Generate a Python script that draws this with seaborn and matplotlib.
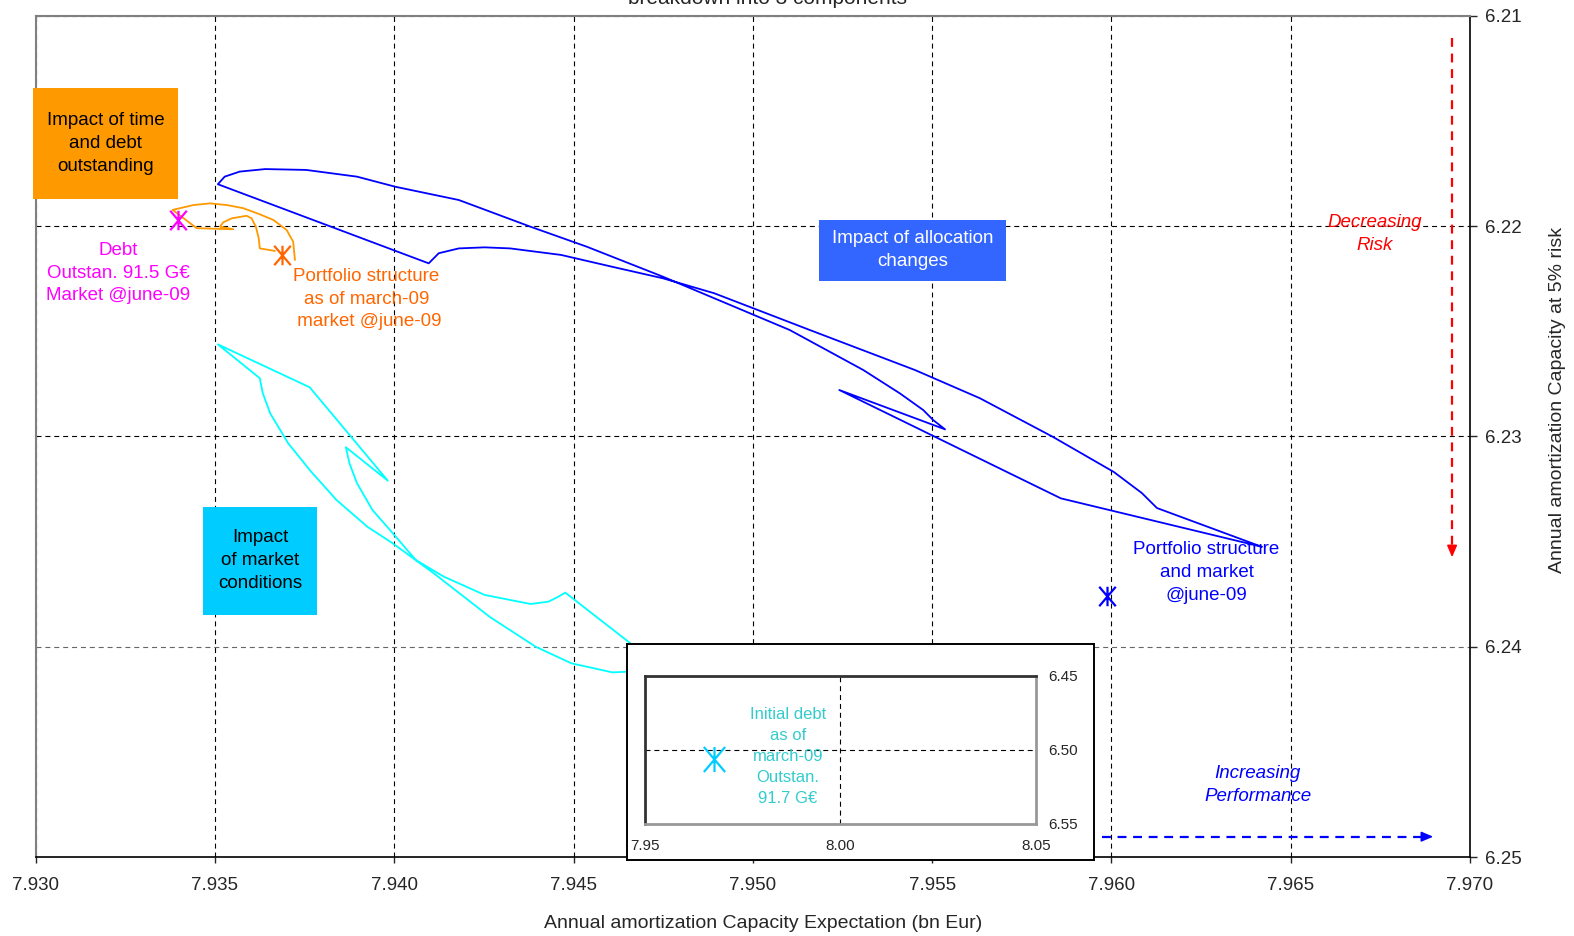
import matplotlib
matplotlib.use("Agg")
import matplotlib.pyplot as plt
import seaborn as sns
from matplotlib.patches import Rectangle
from matplotlib.path import Path
from matplotlib.ticker import FormatStrFormatter

# --- valeurs (x = esperance, y = capacite a 5% de risque) ---
# impact des changements d'allocation (bleu)
alloc_x = [7.96419, 7.95859, 7.95241, 7.95536, 7.95503, 7.95475, 7.95410, 7.95308, 7.95103,
           7.94750, 7.94537, 7.94380, 7.94180, 7.94003, 7.93896, 7.93754, 7.93640, 7.93569,
           7.93527, 7.93508, 7.94096, 7.94124, 7.94180, 7.94252, 7.94323, 7.94465, 7.94607,
           7.94749, 7.94892, 7.95159, 7.95452, 7.95633, 7.95837, 7.96007, 7.96085, 7.96127,
           7.96419]
alloc_y = [6.23524, 6.23294, 6.22779, 6.22966, 6.22922, 6.22874, 6.22795, 6.22684, 6.22494,
           6.22241, 6.22098, 6.22003, 6.21876, 6.21813, 6.21765, 6.21733, 6.21729, 6.21741,
           6.21765, 6.21801, 6.22177, 6.22129, 6.22106, 6.22101, 6.22106, 6.22137, 6.22193,
           6.22248, 6.22319, 6.22494, 6.22684, 6.22818, 6.23002, 6.23169, 6.23269, 6.23340,
           6.23524]

# impact des conditions de marche (cyan)
market_x = [7.94852, 7.94657, 7.94477, 7.94458, 7.94430, 7.94380, 7.94252, 7.94138, 7.94060,
            7.93996, 7.93939, 7.93896, 7.93875, 7.93865, 7.93982, 7.93764, 7.93508, 7.93625,
            7.93633, 7.93654, 7.93704, 7.93768, 7.93839, 7.93925, 7.93996, 7.94110, 7.94266,
            7.94394, 7.94494, 7.94608, 7.94651, 7.94797]
market_y = [6.24238, 6.23981, 6.23742, 6.23761, 6.23785, 6.23796, 6.23753, 6.23666, 6.23587,
            6.23460, 6.23349, 6.23222, 6.23127, 6.23051, 6.23210, 6.22766, 6.22562, 6.22723,
            6.22793, 6.22890, 6.23032, 6.23167, 6.23302, 6.23429, 6.23508, 6.23650, 6.23857,
            6.23999, 6.24078, 6.24121, 6.24118, 6.24086]

# impact du temps et de la dette (orange)
time_x = [7.93723, 7.93718, 7.93700, 7.93663, 7.93625, 7.93579, 7.93533, 7.93486, 7.93440,
          7.93402, 7.93382, 7.93449, 7.93551, 7.93514, 7.93523, 7.93547, 7.93588, 7.93602,
          7.93614, 7.93622, 7.93625, 7.93667]
time_y = [6.22161, 6.22074, 6.22019, 6.21971, 6.21944, 6.21915, 6.21900, 6.21892, 6.21900,
          6.21915, 6.21923, 6.22010, 6.22015, 6.22003, 6.21982, 6.21963, 6.21951, 6.21963,
          6.22003, 6.22058, 6.22106, 6.22118]

# portefeuilles marques d'une etoile
point_x = [7.93398, 7.93686, 7.95988]
point_y = [6.21971, 6.22137, 6.23758]
point_colors = ["#FF00FF", "#FF6600", "#0000FF"]

# dette initiale (encart)
initial_x = [7.9676]
initial_y = [6.5063]

x_ticks = [7.930, 7.935, 7.940, 7.945, 7.950, 7.955, 7.960, 7.965, 7.970]
y_ticks = [6.21, 6.22, 6.23, 6.24, 6.25]
inset_x_ticks = [7.95, 8.00, 8.05]
inset_y_ticks = [6.45, 6.50, 6.55]

sns.set_style("white")
plt.rcParams["font.family"] = ["Liberation Sans", "DejaVu Sans"]

# marqueur "etoile" facon Excel : X + barre verticale
star = Path([(0, -1), (0, 1), (-0.85, -1), (0.85, 1), (-0.85, 1), (0.85, -1)],
            [Path.MOVETO, Path.LINETO, Path.MOVETO, Path.LINETO, Path.MOVETO, Path.LINETO])

fig = plt.figure(figsize=(15.74, 9.36), dpi=100)
ax = fig.add_axes([0.02268, 0.08408, 0.91125, 0.89915])

sns.lineplot(x=alloc_x, y=alloc_y, sort=False, estimator=None, color="#0000FF", lw=1.3, ax=ax)
sns.lineplot(x=market_x, y=market_y, sort=False, estimator=None, color="#00FFFF", lw=1.3, ax=ax)
sns.lineplot(x=time_x, y=time_y, sort=False, estimator=None, color="#FF9900", lw=1.3, ax=ax)
for px, py, c in zip(point_x, point_y, point_colors):
    sns.lineplot(x=[px], y=[py], estimator=None, marker=star, markersize=14,
                 mec=c, mew=1.6, color=c, ax=ax)

ax.set_xlim(7.930, 7.970)
ax.set_ylim(6.25, 6.21)
ax.set_xticks(x_ticks)
ax.set_yticks(y_ticks)
ax.xaxis.set_major_formatter(FormatStrFormatter("%.3f"))
ax.yaxis.set_major_formatter(FormatStrFormatter("%.2f"))
ax.yaxis.tick_right()
ax.tick_params(axis="x", direction="out", length=4, width=1, pad=10, labelsize=13.5, bottom=True)
ax.tick_params(axis="y", direction="out", length=5, width=1, pad=5.5, labelsize=13.5, right=True, left=False)
ax.set_xlabel("")
ax.set_ylabel("")
ax.set_axisbelow(True)
ax.grid(True, color="black", linestyle=(0, (4.5, 3.5)), linewidth=0.8)
ax.get_ygridlines()[3].set_color("#666666")
for side in ["top", "left"]:
    ax.spines[side].set_color("#808080")
    ax.spines[side].set_linewidth(1.5)
for side in ["right", "bottom"]:
    ax.spines[side].set_color("black")
    ax.spines[side].set_linewidth(1.2)

# encadres
boxes = [((7.92993, 6.21345), 7.93398 - 7.92993, 6.21873 - 6.21345, "#FF9900",
          "Impact of time\nand debt\noutstanding", "black"),
         ((7.95184, 6.21971), 7.95706 - 7.95184, 6.22260 - 6.21971, "#3366FF",
          "Impact of allocation\nchanges", "white"),
         ((7.93467, 6.23335), 7.93784 - 7.93467, 6.23847 - 6.23335, "#00CCFF",
          "Impact\nof market\nconditions", "black")]
for (x0, y0), w, h, fc, label, tc in boxes:
    ax.add_patch(Rectangle((x0, y0), w, h, facecolor=fc, edgecolor="none", clip_on=False, zorder=3))
    ax.text(x0 + w / 2, y0 + h / 2, label, ha="center", va="center", color=tc,
            fontsize=13.5, linespacing=1.45, zorder=4)

ax.text(7.93231, 6.22223, "Debt\nOutstan. 91.5 G€\nMarket @june-09", color="#FF00FF",
        ha="center", va="center", fontsize=13.5, linespacing=1.45)
ax.text(7.93922, 6.22347, "Portfolio structure\nas of march-09\n market @june-09", color="#FF6600",
        ha="center", va="center", fontsize=13.5, linespacing=1.45)
ax.text(7.96265, 6.23647, "Portfolio structure\nand market\n@june-09", color="#0000FF",
        ha="center", va="center", fontsize=13.5, linespacing=1.45)
ax.text(7.96735, 6.22038, "Decreasing\nRisk", color="red", style="italic",
        ha="center", va="center", fontsize=13.5, linespacing=1.45)
ax.text(7.96408, 6.24657, "Increasing\nPerformance", color="#0000FF", style="italic",
        ha="center", va="center", fontsize=13.5, linespacing=1.45)

# fleches pointillees
ax.plot([7.96950, 7.96950], [6.21106, 6.23560], color="red", lw=1.6, ls=(0, (4, 3)))
ax.annotate("", xy=(7.96950, 6.23587), xytext=(7.96950, 6.23540),
            arrowprops=dict(arrowstyle="-|>,head_length=0.7,head_width=0.3", color="red", lw=1.2))
ax.plot([7.95973, 7.96880], [6.24902, 6.24902], color="#0000FF", lw=1.6, ls=(0, (4, 3)))
ax.annotate("", xy=(7.96905, 6.24902), xytext=(7.96860, 6.24902),
            arrowprops=dict(arrowstyle="-|>,head_length=0.7,head_width=0.3", color="#0000FF", lw=1.2))

# encart : dette initiale
box_ax = fig.add_axes([0.39835, 0.0812, 0.2967, 0.2308], zorder=5)
box_ax.set_facecolor("white")
box_ax.set_xticks([])
box_ax.set_yticks([])
for s in box_ax.spines.values():
    s.set_color("black")
    s.set_linewidth(1.4)

ax_in = fig.add_axes([0.40966, 0.11966, 0.24854, 0.15812], zorder=6)
sns.lineplot(x=initial_x, y=initial_y, estimator=None, marker=star, markersize=18,
             mec="#00CCFF", mew=1.6, color="#00CCFF", ax=ax_in)
ax_in.set_xlim(7.95, 8.05)
ax_in.set_ylim(6.55, 6.45)
ax_in.set_xticks(inset_x_ticks)
ax_in.set_yticks(inset_y_ticks)
ax_in.xaxis.set_major_formatter(FormatStrFormatter("%.2f"))
ax_in.yaxis.set_major_formatter(FormatStrFormatter("%.2f"))
ax_in.yaxis.tick_right()
ax_in.tick_params(axis="both", length=0, labelsize=11)
ax_in.tick_params(axis="x", pad=11)
ax_in.tick_params(axis="y", pad=8.5)
ax_in.set_xlabel("")
ax_in.set_ylabel("")
ax_in.set_axisbelow(True)
ax_in.grid(True, color="black", linestyle=(0, (4.5, 3.5)), linewidth=0.8)
for side in ["top", "left"]:
    ax_in.spines[side].set_color("#333333")
    ax_in.spines[side].set_linewidth(2)
for side in ["right", "bottom"]:
    ax_in.spines[side].set_color("#999999")
    ax_in.spines[side].set_linewidth(2)
ax_in.text(7.9866, 6.5045, "Initial debt\nas of\nmarch-09\nOutstan.\n91.7 G€", color="#33CCCC",
           ha="center", va="center", fontsize=12, linespacing=1.5)

# titres (le titre est coupe en haut, comme sur l'original)
fig.text(768 / 1574, 1 - 4 / 936, "breakdown into 3 components", ha="center", va="baseline", fontsize=15)
fig.text(763 / 1574, 1 - 923.5 / 936, "Annual amortization Capacity Expectation (bn Eur)",
         ha="center", va="center", fontsize=14)
fig.text(1557 / 1574, 1 - 399.5 / 936, "Annual amortization Capacity at 5% risk",
         ha="center", va="center", rotation=90, fontsize=14)

fig.savefig("out.png", dpi=100)
